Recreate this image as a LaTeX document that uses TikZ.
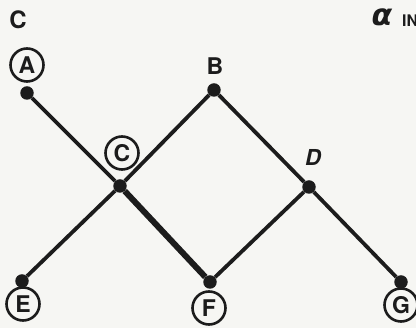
\documentclass[tikz,border=0pt]{standalone}
\usepackage{fontspec}
\setmainfont{TeX Gyre Heros}
\newfontfamily\dvfont{DejaVu Sans}
\definecolor{paper}{RGB}{246,246,243}
\definecolor{ink}{RGB}{28,28,28}
\begin{document}
\begin{tikzpicture}[x=1pt,y=-1pt,
  dot/.style={circle,fill=ink,inner sep=0pt,minimum size=13.5pt},
  clabel/.style={circle,draw=ink,line width=2.6pt,inner sep=0pt,minimum size=33pt,text=ink,font=\bfseries\fontsize{23}{23}\selectfont},
  plabel/.style={inner sep=0pt,text=ink,font=\bfseries\fontsize{24}{24}\selectfont},
  edge/.style={draw=ink,line width=3.8pt},
  heavy/.style={draw=ink,line width=6pt}]
\useasboundingbox[fill=paper] (0,0) rectangle (416,328);
% dots
\node[dot] (A) at (27,93) {};
\node[dot] (B) at (214,90) {};
\node[dot] (C) at (120,186) {};
\node[dot] (D) at (309,187) {};
\node[dot] (E) at (22,281) {};
\node[dot] (F) at (210,282) {};
\node[dot] (G) at (401,282) {};
% edges
\draw[edge] (A) -- (C);
\draw[heavy] (C) -- (F);
\draw[edge] (C) -- (B);
\draw[edge] (C) -- (E);
\draw[edge] (B) -- (D);
\draw[edge] (D) -- (F);
\draw[edge] (D) -- (G);
% labels
\node[plabel] (title) at (18,20) {C};
\node[inner sep=0pt,text=ink,font=\dvfont\bfseries\itshape\fontsize{30}{30}\selectfont] (alpha) at (382,17) {α};
\node[anchor=west,inner sep=0pt,text=ink,font=\bfseries\fontsize{16}{16}\selectfont] (inlab) at (402,21) {IN};
\node[clabel] (lA) at (27,65) {A};
\node[plabel,font=\bfseries\fontsize{23}{23}\selectfont] (lB) at (215,66) {B};
\node[clabel] (lC) at (122,153) {C};
\node[plabel,font=\bfseries\itshape\fontsize{22}{22}\selectfont] (lD) at (313,157) {D};
\node[clabel] (lE) at (23,304) {E};
\node[clabel] (lF) at (209,308) {F};
\node[clabel] (lG) at (401,305) {G};
\end{tikzpicture}
\end{document}
